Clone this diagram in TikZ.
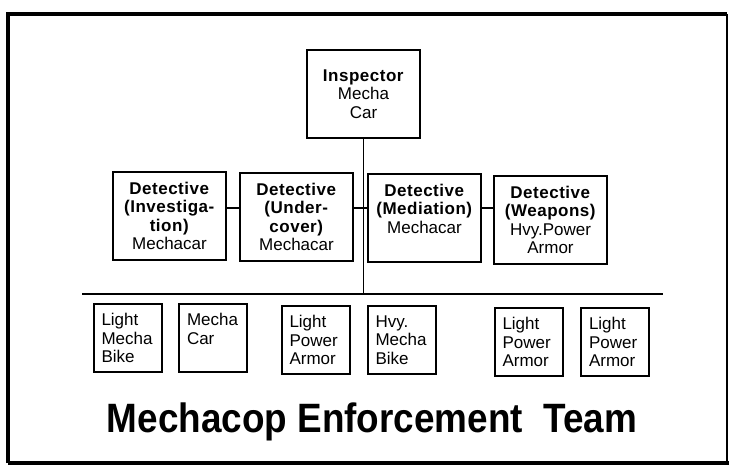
\documentclass[tikz,border=0pt]{standalone}
\usepackage{fontspec}
\setmainfont{Liberation Sans}[BoldFeatures={LetterSpace=3}]
\newfontfamily\titlefont{Liberation Sans}
\usetikzlibrary{calc}

\tikzset{
  officer/.style={draw,line width=2.2pt,rectangle,minimum width=113pt,minimum height=88pt,
    align=center,inner sep=3pt,font=\fontsize{17}{18.6}\selectfont},
  unit/.style={draw,line width=2pt,rectangle,minimum width=68pt,minimum height=68pt,
    text width=52pt,align=left,inner sep=8pt,font=\fontsize{17}{18.6}\selectfont},
  link/.style={line width=1.8pt},
}

\begin{document}
\begin{tikzpicture}[x=1pt,y=-1pt]
\useasboundingbox (0,0) rectangle (731,467);
% outer frame
\draw[line width=3.5pt] (8,463) -- (8,14) -- (727,14);
\draw[line width=2pt] (727,14) -- (727,463);
\draw[line width=4pt] (8,463) -- (729,463);

\node[officer] (insp) at (363.5,94) {\textbf{Inspector}\\Mecha\\Car};

\node[officer] (inv) at (169.5,216) {\textbf{Detective}\\\textbf{(Investiga-}\\\textbf{tion)}\\Mechacar};
\node[officer] (under) at (296.5,217) {\textbf{Detective}\\\textbf{(Under-}\\\textbf{cover)}\\Mechacar};
\node[officer] (medi) at (424.5,218) {\textbf{Detective}\\\textbf{(Mediation)}\\Mechacar\\~};
\node[officer] (weap) at (550.5,220) {\textbf{Detective}\\\textbf{(Weapons)}\\Hvy.Power\\Armor};

\coordinate (mid) at (363.5,208);
\coordinate (barL) at (82,294);
\coordinate (barR) at (663,294);

\draw[link] (insp.south) -- (insp.south |- barL);
\draw[link] (barL) -- (barR);
\draw[link] (inv.east |- mid) -- (under.west |- mid);
\draw[link] (under.east |- mid) -- (medi.west |- mid);
\draw[link] (medi.east |- mid) -- (weap.west |- mid);

\node[unit] (bike1) at (127.5,338) {Light\\Mecha\\Bike};
\node[unit] (car) at (213,338) {Mecha\\Car\\~};
\node[unit] (armor1) at (315.5,340) {Light\\Power\\Armor};
\node[unit] (bike2) at (401.5,340) {Hvy.\\Mecha\\Bike};
\node[unit] (armor2) at (528.5,342) {Light\\Power\\Armor};
\node[unit] (armor3) at (615,342) {Light\\Power\\Armor};

\node[font=\titlefont\fontsize{41}{44}\selectfont\bfseries,inner sep=0pt] (title) at (372,422)
  {\scalebox{0.9}[1]{Mechacop Enforcement\ \ Team}};
\end{tikzpicture}
\end{document}
